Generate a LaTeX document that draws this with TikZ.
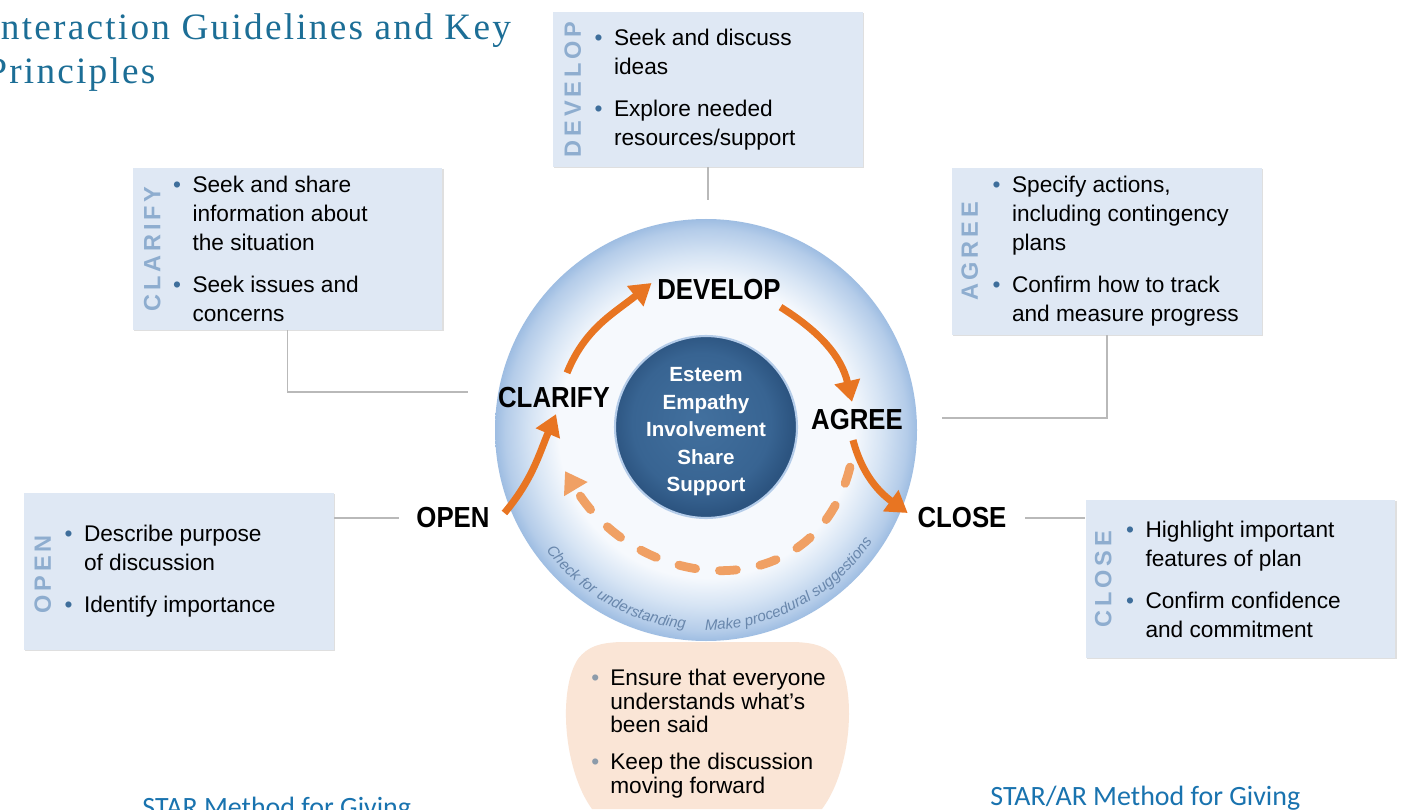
\documentclass[tikz,border=0pt]{standalone}
\usepackage{fontspec}
\setmainfont{Liberation Sans}
\newfontfamily\titlefont[LetterSpace=6]{Liberation Serif}
\newfontfamily\labelfont[FakeStretch=0.89]{Liberation Sans}
\newfontfamily\sidefont[LetterSpace=16]{Liberation Sans}
\newfontfamily\starfont{Carlito}
\usepackage{xcolor}
\usepackage{tikz}
\usetikzlibrary{shapes,arrows.meta,positioning,calc,decorations.text,shadows}

\definecolor{boxfill}{RGB}{223,232,244}
\definecolor{sideblue}{RGB}{142,173,207}
\definecolor{bulletblue}{RGB}{62,110,155}
\definecolor{bulletgray}{RGB}{140,155,170}
\definecolor{linkgray}{RGB}{185,185,185}
\definecolor{floworange}{RGB}{232,117,34}
\definecolor{dashorange}{RGB}{240,160,100}
\definecolor{ringin}{RGB}{246,249,253}
\definecolor{ringmid}{RGB}{214,228,244}
\definecolor{ringblue}{RGB}{180,204,233}
\definecolor{ringedge}{RGB}{158,189,226}
\definecolor{coremid}{RGB}{66,112,158}
\definecolor{coreblue}{RGB}{56,100,146}
\definecolor{coredark}{RGB}{44,84,128}
\definecolor{ringtxt}{RGB}{105,135,172}
\definecolor{peach}{RGB}{250,229,214}
\definecolor{titleblue}{RGB}{28,110,150}
\definecolor{starblue}{RGB}{25,115,175}

% the path fills the middle 50bp of a shading
\pgfdeclareradialshading{ringshade}{\pgfpoint{0bp}{0bp}}{color(0bp)=(ringin); color(17.5bp)=(ringin); color(20.8bp)=(ringmid); color(23.8bp)=(ringblue); color(25bp)=(ringedge); color(50bp)=(ringedge)}
\pgfdeclareradialshading{coreshade}{\pgfpoint{-2bp}{2bp}}{color(0bp)=(coremid); color(19bp)=(coreblue); color(25bp)=(coredark); color(50bp)=(coredark)}

\newcommand{\bul}{\llap{\textcolor{bulletblue}{\textbullet}\hspace{6.5pt}}}
\newcommand{\pbul}{\llap{\textcolor{bulletgray}{\textbullet}\hspace{6.3pt}}}
\newcommand{\ringfont}{\fontsize{8.6}{10}\selectfont\itshape\color{ringtxt}}

\begin{document}
\begin{tikzpicture}[x=0.02cm, y=0.02cm,
    infobox/.style={rectangle, fill=boxfill, minimum width=6.2cm, drop shadow={shadow xshift=0.6pt, shadow yshift=-0.8pt, opacity=0.25}},
    bullets/.style={align=left, inner sep=0pt, font=\fontsize{12.9}{16.5}\selectfont},
    sidelbl/.style={rotate=90, inner sep=0pt, text=sideblue, font=\sidefont\fontsize{13.4}{14}\selectfont\bfseries},
    phaselbl/.style={inner sep=2pt, font=\labelfont\fontsize{16.5}{18}\selectfont\bfseries},
    flow/.style={-{Triangle[length=0.42cm, width=0.5cm]}, line width=4pt, draw=floworange},
    backflow/.style={-{Triangle[length=0.42cm, width=0.52cm]}, line width=5pt, draw=dashorange, dash pattern=on 0.34cm off 0.48cm, line cap=round},
    link/.style={draw=linkgray, line width=0.85pt},
    titletxt/.style={inner sep=0pt, text=titleblue, font=\titlefont\fontsize{21.2}{25}\selectfont},
    startxt/.style={inner sep=0pt, text=starblue, font=\starfont\fontsize{15.9}{18}\selectfont}]

    \useasboundingbox (0,0) rectangle (1406,809);
    \clip (0,0) rectangle (1406,809);
    \fill[white] (0,0) rectangle (1406,809);

    % Title and captions
    \node[titletxt, anchor=base west] (title1) at (-14,769) {Interaction Guidelines and Key};
    \node[titletxt, anchor=base west] (title2) at (-14,725) {Principles};
    \node[startxt, anchor=base west] (starl) at (142,-7) {STAR Method for Giving};
    \node[startxt, anchor=base west] (starr) at (990,4) {STAR/AR Method for Giving};

    % Bottom - peach panel under the ring
    \fill[peach] (592,0) .. controls (563,40) and (558,120) .. (578,150)
        .. controls (588,163) and (600,166) .. (620,167) -- (795,167)
        .. controls (815,166) and (827,163) .. (837,150)
        .. controls (857,120) and (852,40) .. (822,0) -- cycle;
    \node[bullets, anchor=west, font=\fontsize{12.9}{13.4}\selectfont] (peachtxt) at (610,75.5)
        {\pbul Ensure that everyone\\ understands what's\\ been said\\[7.7pt]
         \pbul Keep the discussion\\ moving forward};

    % Centre - ring and core
    \coordinate (ringc) at (706,379);
    \shade[shading=ringshade] (ringc) circle[radius=211];
    \node[circle, minimum size=3.64cm, shading=coreshade, draw=ringblue, line width=1.2pt] (core) at (706,382) {};
    \node[align=center, inner sep=0pt, text=white, font=\fontsize{11.7}{15.65}\selectfont\bfseries] (values) at (706,377)
        {Esteem\\Empathy\\Involvement\\Share\\Support};

    \path[decorate, decoration={text along path, text align=center, text={|\ringfont|Check for understanding}}]
        ($(ringc)+(215:200)$) arc[start angle=215, end angle=266, radius=200];
    \path[decorate, decoration={text along path, text align=center, text={|\ringfont|Make procedural suggestions}}]
        ($(ringc)+(269:200)$) arc[start angle=269, end angle=327, radius=200];

    % Steps round the ring
    \node[phaselbl] (open) at (453,291) {OPEN};
    \node[phaselbl] (clarify) at (554,411) {CLARIFY};
    \node[phaselbl] (develop) at (719,519) {DEVELOP};
    \node[phaselbl] (agree) at (857,389) {AGREE};
    \node[phaselbl] (close) at (962,291) {CLOSE};

    % Arrows
    \draw[flow] ($(open.east)+(11,5)$) to[out=50,in=247] ($(clarify.south)+(2,-2)$);
    \draw[flow] ($(clarify.north)+(13,11)$) to[out=68,in=219] ($(develop.west)+(-2,7)$);
    \draw[flow] ($(develop.south east)+(-4,-3)$) to[out=-32,in=103] ($(agree.north)+(-5,4)$);
    \draw[flow] ($(agree.south)+(-4,-6)$) to[out=-75,in=144] ($(close.west)+(-6,5)$);
    \coordinate (backstart) at ($(agree.south)+(-7,-33)$);
    \coordinate (backend) at ($(clarify.south)+(11,-59)$);
    \draw[backflow] (backstart) to[out=-104,in=-59,looseness=1.3] (backend);

    % Boxes
    \node[infobox, minimum height=3.1cm] (devbox) at (708,719.5) {};
    \node[infobox, minimum height=3.24cm] (clarbox) at (287.5,560) {};
    \node[infobox, minimum height=3.34cm] (agreebox) at (1107,557.5) {};
    \node[infobox, minimum height=3.14cm] (openbox) at (179,237.5) {};
    \node[infobox, minimum height=3.16cm] (closebox) at (1240.5,230) {};

    \node[sidelbl] (devside) at ($(devbox.west)+(20,0)$) {DEVELOP};
    \node[sidelbl] (clarside) at ($(clarbox.west)+(20,0)$) {CLARIFY};
    \node[sidelbl] (agreeside) at ($(agreebox.west)+(18,0)$) {AGREE};
    \node[sidelbl] (openside) at ($(openbox.west)+(19,-3)$) {OPEN};
    \node[sidelbl] (closeside) at ($(closebox.west)+(18,0)$) {CLOSE};

    \node[bullets, right=1.22cm of devbox.west] (devtxt)
        {\bul Seek and discuss\\ ideas\\[7.4pt] \bul Explore needed\\ resources/support};
    \node[bullets, right=1.2cm of clarbox.west] (clartxt)
        {\bul Seek and share\\ information about\\ the situation\\[7.4pt] \bul Seek issues and\\ concerns};
    \node[bullets, right=1.2cm of agreebox.west] (agreetxt)
        {\bul Specify actions,\\ including contingency\\ plans\\[7.4pt] \bul Confirm how to track\\ and measure progress};
    \node[bullets, right=1.2cm of openbox.west] (opentxt)
        {\bul Describe purpose\\ of discussion\\[7.4pt] \bul Identify importance};
    \node[bullets, right=1.2cm of closebox.west] (closetxt)
        {\bul Highlight important\\ features of plan\\[7.4pt] \bul Confirm confidence\\ and commitment};

    % Connectors
    \coordinate (devend) at ($(devbox.south)+(0,-33)$);
    \coordinate (clarend) at (468,417);
    \coordinate (agreeend) at (942,391);
    \draw[link] (devbox.south) -- (devend);
    \draw[link] (clarbox.south) |- (clarend);
    \draw[link] (agreebox.south) |- (agreeend);
    \draw[link, shorten >=0.28cm] (open.west -| openbox.east) -- (open.west);
    \draw[link, shorten <=0.3cm] (close.east) -- (close.east -| closebox.west);

\end{tikzpicture}
\end{document}
